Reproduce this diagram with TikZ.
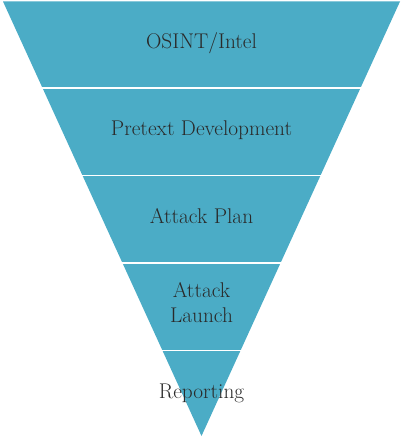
\documentclass[tikz,border=0pt]{standalone}
\usepackage{xcolor}
\usepackage{tikz}
\definecolor{funnel}{HTML}{4BACC6}
\definecolor{labeltext}{HTML}{2A2A2A}

\begin{document}
\begin{tikzpicture}[
    x=1pt, y=-1pt,
    band/.style={fill=funnel, draw=none},
    gap/.style={draw=white, line width=1.8pt},
    stage/.style={text=labeltext, font=\fontsize{21.3}{25}\selectfont, align=center, inner sep=0pt, anchor=base}
]
    \useasboundingbox (0,0) rectangle (403,441);
    % funnel body
    \fill[band] (3,1.5) -- (400,1.5) -- (201.5,436) -- cycle;
    % white gaps between the stages
    \foreach \y in {88,175.5,263,350.5}
        \draw[gap] (0,\y) -- (403,\y);

    \node[stage] (osint) at (201.5,49) {OSINT/Intel};
    \node[stage] (pretext) at (201.5,135) {Pretext Development};
    \node[stage] (plan) at (201.5,223.3) {Attack Plan};
    \node[stage] (launch) at (201.5,322.7) {Attack\\Launch};
    \node[stage] (report) at (201.5,398) {Reporting};
\end{tikzpicture}
\end{document}
